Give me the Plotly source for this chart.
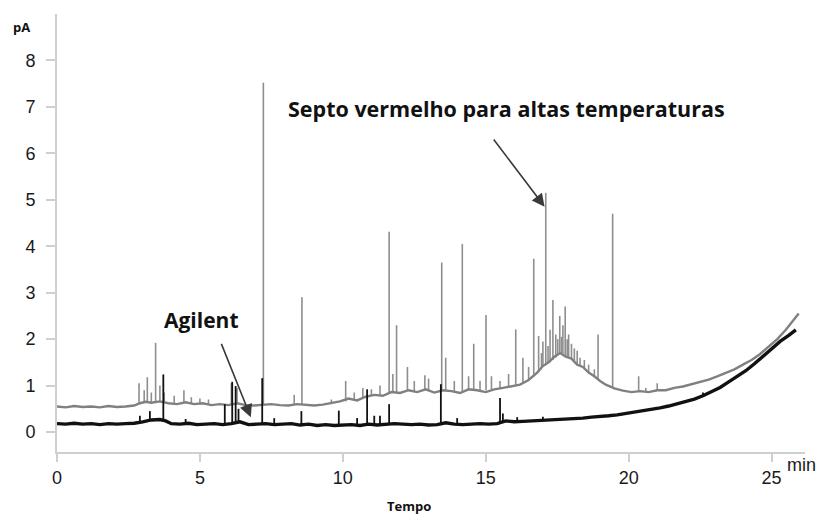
import plotly.graph_objects as go

# ---------------- data ----------------
# gray trace: "Septo vermelho para altas temperaturas" - baseline
gray_base_t = [0, 0.3, 0.6, 0.9, 1.2, 1.5, 1.8, 2.1, 2.4, 2.7, 2.9, 3.1, 3.3, 3.6, 3.9,
               4.2, 4.5, 4.8, 5.1, 5.4, 5.7, 6.0, 6.3, 6.6, 6.9, 7.2, 7.5, 7.8, 8.1, 8.4,
               8.7, 9.0, 9.3, 9.6, 9.9, 10.2, 10.5, 10.8, 11.1, 11.4, 11.7, 12.0, 12.3,
               12.6, 12.9, 13.2, 13.5, 13.8, 14.1, 14.4, 14.7, 15.0, 15.3, 15.6, 15.9,
               16.2, 16.5, 16.8, 17.0, 17.2, 17.4, 17.6, 17.8, 18.0, 18.2, 18.4, 18.6,
               18.8, 19.0, 19.2, 19.5, 19.8, 20.1, 20.4, 20.7, 21.0, 21.3, 21.6, 21.9,
               22.2, 22.5, 22.8, 23.1, 23.4, 23.7, 24.0, 24.3, 24.6, 24.9, 25.2, 25.5,
               25.8, 25.95]
gray_base_y = [0.55, 0.53, 0.56, 0.54, 0.55, 0.53, 0.56, 0.54, 0.55, 0.57, 0.62, 0.65, 0.63,
               0.66, 0.62, 0.60, 0.64, 0.60, 0.62, 0.58, 0.60, 0.58, 0.62, 0.58, 0.57, 0.58,
               0.60, 0.58, 0.57, 0.60, 0.58, 0.57, 0.59, 0.62, 0.66, 0.72, 0.68, 0.76, 0.80,
               0.78, 0.86, 0.84, 0.90, 0.86, 0.92, 0.85, 0.90, 0.88, 0.84, 0.92, 0.90, 0.86,
               0.92, 0.95, 0.98, 1.02, 1.12, 1.28, 1.42, 1.50, 1.62, 1.70, 1.62, 1.58, 1.45,
               1.40, 1.28, 1.20, 1.10, 1.02, 0.94, 0.89, 0.86, 0.88, 0.86, 0.90, 0.90, 0.95,
               0.98, 1.03, 1.08, 1.13, 1.20, 1.27, 1.35, 1.45, 1.55, 1.68, 1.83, 2.00, 2.20,
               2.45, 2.55]
# gray trace peaks: retention time, foot, apex
gray_peak_t = [2.87, 3.05, 3.16, 3.30, 3.45, 3.60, 3.75, 4.10, 4.44, 4.70, 5.00, 5.30, 6.10,
               6.30, 7.22, 8.30, 8.57, 9.60, 10.10, 10.40, 10.70, 11.00, 11.30, 11.62, 11.75,
               11.88, 12.26, 12.50, 12.87, 13.00, 13.46, 13.60, 13.90, 14.18, 14.40, 14.58,
               14.80, 15.01, 15.20, 15.50, 15.80, 16.05, 16.30, 16.50, 16.68, 16.85, 16.95,
               17.00, 17.10, 17.18, 17.25, 17.35, 17.45, 17.52, 17.59, 17.65, 17.70, 17.78,
               17.85, 17.90, 18.00, 18.10, 18.20, 18.30, 18.45, 18.60, 18.80, 18.93, 19.44,
               20.35, 20.60, 21.00]
gray_peak_foot = [0.60, 0.62, 0.63, 0.63, 0.64, 0.65, 0.63, 0.60, 0.62, 0.60, 0.60, 0.60,
                  0.60, 0.60, 0.58, 0.58, 0.58, 0.60, 0.66, 0.70, 0.72, 0.78, 0.80, 0.85,
                  0.85, 0.85, 0.88, 0.88, 0.90, 0.90, 0.90, 0.90, 0.88, 0.88, 0.90, 0.90,
                  0.90, 0.90, 0.92, 0.95, 0.98, 1.00, 1.05, 1.12, 1.20, 1.30, 1.38, 1.42,
                  1.45, 1.48, 1.50, 1.55, 1.60, 1.65, 1.68, 1.70, 1.68, 1.62, 1.60, 1.60,
                  1.58, 1.52, 1.45, 1.42, 1.35, 1.28, 1.18, 1.12, 0.95, 0.88, 0.87, 0.90]
gray_peak_top = [1.05, 0.90, 1.18, 0.85, 1.92, 1.00, 0.85, 0.78, 0.90, 0.75, 0.72, 0.70,
                 1.05, 0.95, 7.52, 0.80, 2.90, 0.70, 1.10, 0.85, 0.95, 0.92, 1.00, 4.31,
                 1.25, 2.30, 1.40, 1.10, 1.22, 1.15, 3.65, 1.60, 1.10, 4.05, 1.20, 1.90,
                 1.10, 2.52, 1.20, 1.10, 1.25, 2.21, 1.60, 1.40, 3.73, 2.07, 1.70, 1.95,
                 5.15, 1.85, 2.20, 2.84, 2.10, 2.00, 2.50, 2.05, 2.30, 2.70, 2.00, 2.10,
                 1.90, 1.80, 1.75, 1.60, 1.55, 1.45, 1.35, 2.10, 4.70, 1.20, 0.95, 1.05]

# black trace: "Agilent" - baseline
black_base_t = [0, 0.3, 0.6, 0.9, 1.2, 1.5, 1.8, 2.1, 2.4, 2.7, 3.0, 3.3, 3.6, 3.8, 4.0,
                4.3, 4.6, 4.9, 5.2, 5.5, 5.8, 6.1, 6.4, 6.7, 7.0, 7.3, 7.6, 7.9, 8.2, 8.5,
                8.8, 9.1, 9.4, 9.7, 10.0, 10.3, 10.6, 10.9, 11.2, 11.5, 11.8, 12.1, 12.4,
                12.7, 13.0, 13.3, 13.6, 13.9, 14.2, 14.5, 14.8, 15.1, 15.4, 15.7, 16.0,
                16.3, 16.6, 16.9, 17.2, 17.5, 17.8, 18.1, 18.4, 18.7, 19.0, 19.3, 19.6,
                19.9, 20.2, 20.5, 20.8, 21.1, 21.4, 21.7, 22.0, 22.3, 22.6, 22.9, 23.2,
                23.5, 23.8, 24.1, 24.4, 24.7, 25.0, 25.3, 25.6, 25.85]
black_base_y = [0.18, 0.17, 0.19, 0.17, 0.18, 0.16, 0.18, 0.17, 0.18, 0.19, 0.22, 0.26,
                0.27, 0.24, 0.18, 0.17, 0.19, 0.16, 0.17, 0.18, 0.16, 0.18, 0.22, 0.16,
                0.17, 0.18, 0.16, 0.17, 0.18, 0.15, 0.17, 0.14, 0.16, 0.14, 0.15, 0.16,
                0.14, 0.17, 0.15, 0.17, 0.18, 0.17, 0.16, 0.17, 0.15, 0.16, 0.20, 0.17,
                0.16, 0.17, 0.18, 0.17, 0.18, 0.24, 0.22, 0.23, 0.24, 0.25, 0.26, 0.26,
                0.28, 0.28, 0.30, 0.32, 0.33, 0.35, 0.37, 0.40, 0.42, 0.45, 0.48, 0.52,
                0.56, 0.61, 0.66, 0.71, 0.78, 0.86, 0.96, 1.08, 1.20, 1.32, 1.47, 1.63,
                1.80, 1.95, 2.08, 2.20]
black_peak_t = [2.90, 3.25, 3.72, 4.50, 5.87, 6.13, 6.25, 6.35, 7.18, 7.60, 8.55, 9.86,
                10.50, 10.85, 11.10, 11.30, 11.62, 13.43, 14.00, 15.50, 15.60, 16.10,
                17.00, 22.60]
black_peak_foot = [0.20, 0.25, 0.25, 0.18, 0.17, 0.20, 0.20, 0.20, 0.17, 0.16, 0.15, 0.14,
                   0.14, 0.16, 0.16, 0.16, 0.17, 0.16, 0.16, 0.18, 0.20, 0.22, 0.25, 0.76]
black_peak_top = [0.35, 0.45, 1.24, 0.28, 0.60, 1.08, 0.99, 0.50, 1.16, 0.30, 0.45, 0.46,
                  0.30, 0.92, 0.35, 0.35, 0.60, 1.03, 0.30, 0.73, 0.40, 0.32, 0.33, 0.85]

x_ticks = [0, 5, 10, 15, 20, 25]
x_tick_text = ["0", "5", "10", "15", "20", "25"]
y_ticks = [0, 1, 2, 3, 4, 5, 6, 7, 8]
y_tick_text = ["0", "1", "2", "3", "4", "5", "6", "7", "8"]


def spikes(ts, foot, top):
    xs, ys = [], []
    for t, f, h in zip(ts, foot, top):
        xs += [t, t, None]
        ys += [f, h, None]
    return xs, ys


GRAY = "#808080"
BLACK = "#111111"

fig = go.Figure()
gx, gy = spikes(gray_peak_t, gray_peak_foot, gray_peak_top)
fig.add_trace(go.Scatter(x=gx, y=gy, mode="lines", line=dict(color="#8e8e8e", width=1.6),
                         hoverinfo="skip", showlegend=False))
fig.add_trace(go.Scatter(x=gray_base_t, y=gray_base_y, mode="lines",
                         line=dict(color=GRAY, width=2.4), showlegend=False))
bx, by = spikes(black_peak_t, black_peak_foot, black_peak_top)
fig.add_trace(go.Scatter(x=bx, y=by, mode="lines", line=dict(color=BLACK, width=1.8),
                         hoverinfo="skip", showlegend=False))
fig.add_trace(go.Scatter(x=black_base_t, y=black_base_y, mode="lines",
                         line=dict(color=BLACK, width=3.4), showlegend=False))

TICKFONT = dict(family="Liberation Sans, Arial, sans-serif", size=18, color="#1a1a1a")
BOLD = "Open Sans, Lato, sans-serif"

fig.update_layout(
    width=828, height=522,
    margin=dict(l=57, r=23, t=14, b=70),
    paper_bgcolor="white", plot_bgcolor="white",
    xaxis=dict(range=[0, 26.17], tickvals=x_ticks, ticktext=x_tick_text,
               showgrid=False, zeroline=False, showline=True, linecolor="#cfcfcf",
               linewidth=2, ticks="outside", ticklen=8, tickwidth=2, tickcolor="#cfcfcf",
               tickfont=TICKFONT, ticklabelstandoff=0, automargin=False),
    yaxis=dict(range=[-0.43, 9.0], tickvals=y_ticks, ticktext=y_tick_text,
               showgrid=False, zeroline=False, showline=True, linecolor="#cfcfcf",
               linewidth=2, ticks="outside", ticklen=9, tickwidth=2, tickcolor="#cfcfcf",
               tickfont=TICKFONT, ticklabelstandoff=7, automargin=False),
)

fig.add_annotation(x=17.06, y=4.85, ax=15.24, ay=6.33, xref="x", yref="y",
                   axref="x", ayref="y", text="", showarrow=True, arrowhead=2,
                   arrowsize=1.6, arrowwidth=1.6, arrowcolor="#3a3a3a")
fig.add_annotation(x=6.78, y=0.32, ax=5.73, ay=1.93, xref="x", yref="y",
                   axref="x", ayref="y", text="", showarrow=True, arrowhead=2,
                   arrowsize=1.6, arrowwidth=1.6, arrowcolor="#3a3a3a")
fig.add_annotation(x=15.72, y=6.97, xref="x", yref="y", showarrow=False,
                   text="<b>Septo vermelho para altas temperaturas</b>",
                   font=dict(family=BOLD, size=21.5, color="#111111"))
fig.add_annotation(x=5.05, y=2.42, xref="x", yref="y", showarrow=False,
                   text="<b>Agilent</b>",
                   font=dict(family=BOLD, size=21, color="#111111"))
fig.add_annotation(x=-0.048, y=0.97, xref="paper", yref="paper", showarrow=False,
                   xanchor="center", yanchor="middle",
                   text="<b>pA</b>", font=dict(family=BOLD, size=13, color="#111111"))
fig.add_annotation(x=0.995, y=-0.03, xref="paper", yref="paper", showarrow=False,
                   xanchor="center", yanchor="middle",
                   text="min", font=TICKFONT)
fig.add_annotation(x=0.471, y=-0.123, xref="paper", yref="paper", showarrow=False,
                   xanchor="center", yanchor="middle",
                   text="<b>Tempo</b>", font=dict(family=BOLD, size=13, color="#111111"))

fig.write_html("out.html")
